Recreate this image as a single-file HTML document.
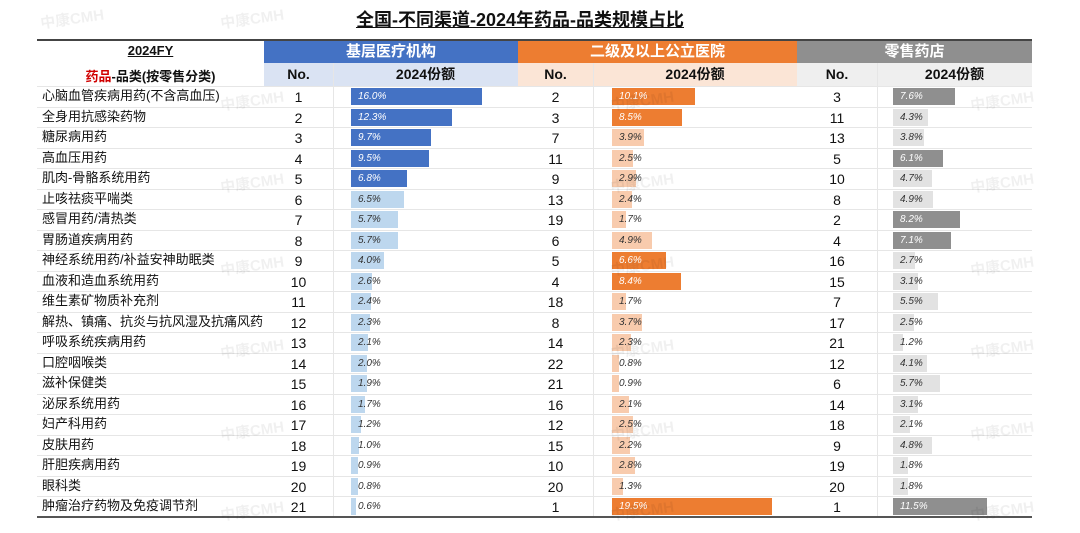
<!DOCTYPE html>
<html><head><meta charset="utf-8"><style>
body{margin:0;width:1080px;height:533px;background:#fff;position:relative;overflow:hidden;font-family:"Liberation Sans","Noto Sans CJK SC",sans-serif;color:#111}
.abs{position:absolute}
.wm{position:absolute;color:rgba(0,0,0,0.06);font-size:15px;font-weight:bold;transform:rotate(-8deg);pointer-events:none}
.c{text-align:center}
.cell{position:absolute;font-size:13px;line-height:20px}
.bar{position:absolute;height:17px}
.bl{position:absolute;font-size:10px;font-style:italic;line-height:17px;padding-left:7px}
.hl{position:absolute;height:1px;background:#e6e6e6}
</style></head><body>
<div class="abs c" style="left:0;width:1040px;top:6px;font-size:18px;font-weight:bold;text-decoration:underline">全国-不同渠道-2024年药品-品类规模占比</div>
<div class="abs" style="left:37px;width:995px;top:39px;height:2px;background:#444"></div>
<div class="abs c" style="left:37px;width:227px;top:43px;font-size:13px;font-weight:bold;text-decoration:underline">2024FY</div>
<div class="abs c" style="left:37px;width:227px;top:66px;font-size:13px;font-weight:bold"><span style="color:#d00000">药品</span>-品类(按零售分类)</div>
<div class="abs c" style="left:264px;width:254px;top:41px;height:22px;background:#4472C4;color:#fff;font-size:15px;font-weight:bold;line-height:22px">基层医疗机构</div>
<div class="abs c" style="left:518px;width:279px;top:41px;height:22px;background:#ED7D31;color:#fff;font-size:15px;font-weight:bold;line-height:22px">二级及以上公立医院</div>
<div class="abs c" style="left:797px;width:235px;top:41px;height:22px;background:#8F8F8F;color:#fff;font-size:15px;font-weight:bold;line-height:22px">零售药店</div>
<div class="abs" style="left:264px;width:254px;top:63px;height:23px;background:#DAE3F3"></div>
<div class="abs" style="left:518px;width:279px;top:63px;height:23px;background:#FBE5D6"></div>
<div class="abs" style="left:797px;width:235px;top:63px;height:23px;background:#EFEFEF"></div>
<div id="subs"></div>
<div id="rows"></div>
<div class="abs" style="left:37px;width:995px;top:516px;height:2px;background:#555"></div>
<div class="wm" style="left:40px;top:8px">中康CMH</div><div class="wm" style="left:220px;top:8px">中康CMH</div>
<div class="wm" style="left:220px;top:90px">中康CMH</div><div class="wm" style="left:610px;top:90px">中康CMH</div><div class="wm" style="left:970px;top:90px">中康CMH</div>
<div class="wm" style="left:220px;top:172px">中康CMH</div><div class="wm" style="left:610px;top:172px">中康CMH</div><div class="wm" style="left:970px;top:172px">中康CMH</div>
<div class="wm" style="left:220px;top:255px">中康CMH</div><div class="wm" style="left:610px;top:255px">中康CMH</div><div class="wm" style="left:970px;top:255px">中康CMH</div>
<div class="wm" style="left:220px;top:338px">中康CMH</div><div class="wm" style="left:610px;top:338px">中康CMH</div><div class="wm" style="left:970px;top:338px">中康CMH</div>
<div class="wm" style="left:220px;top:420px">中康CMH</div><div class="wm" style="left:610px;top:420px">中康CMH</div><div class="wm" style="left:970px;top:420px">中康CMH</div>
<div class="wm" style="left:220px;top:500px">中康CMH</div><div class="wm" style="left:610px;top:500px">中康CMH</div><div class="wm" style="left:970px;top:500px">中康CMH</div>
<script>
const categories=["心脑血管疾病用药(不含高血压)","全身用抗感染药物","糖尿病用药","高血压用药","肌肉-骨骼系统用药","止咳祛痰平喘类","感冒用药/清热类","胃肠道疾病用药","神经系统用药/补益安神助眠类","血液和造血系统用药","维生素矿物质补充剂","解热、镇痛、抗炎与抗风湿及抗痛风药","呼吸系统疾病用药","口腔咽喉类","滋补保健类","泌尿系统用药","妇产科用药","皮肤用药","肝胆疾病用药","眼科类","肿瘤治疗药物及免疫调节剂"];
const rank1=[1,2,3,4,5,6,7,8,9,10,11,12,13,14,15,16,17,18,19,20,21];
const share1=[16.0,12.3,9.7,9.5,6.8,6.5,5.7,5.7,4.0,2.6,2.4,2.3,2.1,2.0,1.9,1.7,1.2,1.0,0.9,0.8,0.6];
const rank2=[2,3,7,11,9,13,19,6,5,4,18,8,14,22,21,16,12,15,10,20,1];
const share2=[10.1,8.5,3.9,2.5,2.9,2.4,1.7,4.9,6.6,8.4,1.7,3.7,2.3,0.8,0.9,2.1,2.5,2.2,2.8,1.3,19.5];
const rank3=[3,11,13,5,10,8,2,4,16,15,7,17,21,12,6,14,18,9,19,20,1];
const share3=[7.6,4.3,3.8,6.1,4.7,4.9,8.2,7.1,2.7,3.1,5.5,2.5,1.2,4.1,5.7,3.1,2.1,4.8,1.8,1.8,11.5];
const groups=[
 {rank:rank1,share:share1,l:264,div:333,r:518,x0:351,dark:"#4472C4",light:"#BDD7EE",n:"grassroots"},
 {rank:rank2,share:share2,l:518,div:593,r:797,x0:612,dark:"#ED7D31",light:"#F8CBAD",n:"hospital"},
 {rank:rank3,share:share3,l:797,div:877,r:1032,x0:893,dark:"#8F8F8F",light:"#E2E2E2",n:"retail"}];
const PX=8.2, top0=86, rh=20.5;
const subs=document.getElementById('subs'), rows=document.getElementById('rows');
function mk(parent,cls,style,text){const d=document.createElement('div');d.className=cls;d.style.cssText=style;if(text!==undefined)d.textContent=text;parent.appendChild(d);return d;}
groups.forEach(g=>{
 const a=mk(subs,'cell c',`left:${g.l}px;width:${g.div-g.l}px;top:64px;font-weight:bold;font-size:14px`,'No.');
 
 
 const b=mk(subs,'cell c',`left:${g.div}px;width:${g.r-g.div}px;top:64px;font-weight:bold;font-size:14px`,'2024份额');
 
 
 const v=mk(subs,'abs',`left:${g.div}px;top:63px;width:1px;height:454px;background:#e6e6e6`);
 
 
 g.top5=[...g.share].sort((x,y)=>y-x)[4];
});
categories.forEach((c,i)=>{
 const y=top0+i*rh;
 const ln=mk(rows,'hl',`left:37px;width:995px;top:${y}px`);
 
 
 const t=mk(rows,'cell',`left:42px;top:${y}px;white-space:nowrap`,c);
 
 
 groups.forEach(g=>{
  const n=mk(rows,'cell c',`left:${g.l}px;width:${g.div-g.l}px;top:${y+1}px;font-size:14px`,String(g.rank[i]));
  
  
  const v=g.share[i], dk=v>=g.top5;
  const b=mk(rows,'bar',`left:${g.x0}px;top:${y+2}px;width:${v*PX}px;background:${dk?g.dark:g.light}`);
  
  
  const l=mk(rows,'bl',`left:${g.x0}px;top:${y+2}px;color:${dk?'#fff':'#333'}`,v.toFixed(1)+'%');
  
  
 });
});
</script>
</body></html>
